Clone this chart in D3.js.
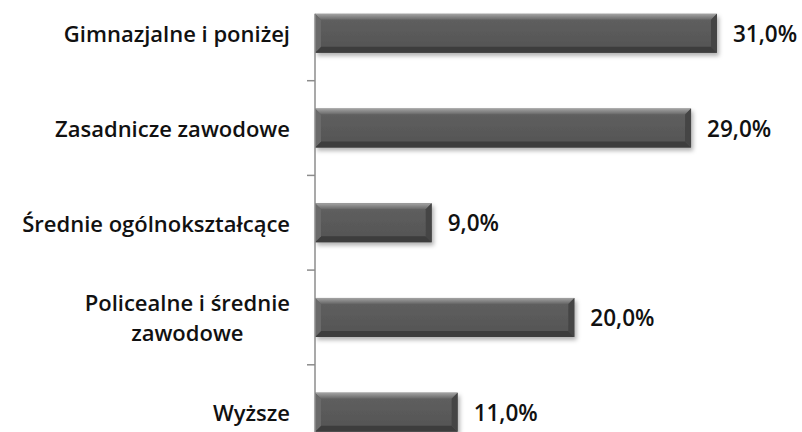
<!DOCTYPE html>
<html lang="pl">

<head>
    <meta charset="UTF-8">
    <title>Wykształcenie</title>
    <style>
        body {
            padding: 0;
            margin: 0;
            background: #fff;
        }
        text {
            font-family: "Open Sans", Lato, sans-serif;
            font-weight: 600;
            fill: #111;
        }
    </style>
</head>

<body>
    <script src="https://d3js.org/d3.v7.min.js"></script>
    <script>
        // dane wykresu
        const categories = ['Gimnazjalne i poniżej', 'Zasadnicze zawodowe', 'Średnie ogólnokształcące', 'Policealne i średnie zawodowe', 'Wyższe'];
        const labelLines = [['Gimnazjalne i poniżej'], ['Zasadnicze zawodowe'], ['Średnie ogólnokształcące'], ['Policealne i średnie', 'zawodowe'], ['Wyższe']];
        const values = [31, 29, 9, 20, 11];

        const width = 802;
        const height = 432;

        const svg = d3.select('body')
            .append('svg')
            .attr('width', width)
            .attr('height', height);

        const defs = svg.append('defs');
        const shadow = defs.append('filter')
            .attr('id', 'shadow')
            .attr('x', '-10%').attr('y', '-30%')
            .attr('width', '130%').attr('height', '180%');
        shadow.append('feDropShadow')
            .attr('dx', 2).attr('dy', 3)
            .attr('stdDeviation', 2)
            .attr('flood-color', '#000')
            .attr('flood-opacity', 0.3);

        const topGrad = defs.append('linearGradient').attr('id', 'topGrad')
            .attr('x1', 0).attr('y1', 0).attr('x2', 0).attr('y2', 1);
        topGrad.append('stop').attr('offset', 0).attr('stop-color', '#a4a4a4');
        topGrad.append('stop').attr('offset', 1).attr('stop-color', '#666');

        const bodyGrad = defs.append('linearGradient').attr('id', 'bodyGrad')
            .attr('x1', 0).attr('y1', 0).attr('x2', 0).attr('y2', 1);
        bodyGrad.append('stop').attr('offset', 0).attr('stop-color', '#606060');
        bodyGrad.append('stop').attr('offset', 1).attr('stop-color', '#545454');

        //skale
        const y = d3.scaleBand()
            .domain(categories)
            .range([-14, 459.5])
            .paddingInner(0.588)
            .paddingOuter(0.294);

        const x = d3.scaleLinear()
            .domain([0, 31])
            .range([315, 717]);

        const bevel = 6;
        const bars = svg.append('g')
            .selectAll('g')
            .data(categories)
            .join('g')
            .attr('filter', 'url(#shadow)');

        bars.append('rect')
            .attr('x', x(0))
            .attr('y', d => y(d))
            .attr('width', (d, i) => x(values[i]) - x(0))
            .attr('height', y.bandwidth())
            .attr('fill', 'url(#bodyGrad)');

        // górna krawędź
        bars.append('path')
            .attr('d', (d, i) => {
                const x0 = x(0), x1 = x(values[i]), t = y(d);
                return `M${x0},${t}L${x1},${t}L${x1 - bevel},${t + bevel}L${x0 + bevel},${t + bevel}Z`;
            })
            .attr('fill', 'url(#topGrad)');

        // dolna krawędź
        bars.append('path')
            .attr('d', (d, i) => {
                const x0 = x(0), x1 = x(values[i]), b = y(d) + y.bandwidth();
                return `M${x0},${b}L${x1},${b}L${x1 - bevel},${b - bevel}L${x0 + bevel},${b - bevel}Z`;
            })
            .attr('fill', '#3e3e3e');

        // prawa krawędź
        bars.append('path')
            .attr('d', (d, i) => {
                const x1 = x(values[i]), t = y(d), b = t + y.bandwidth();
                return `M${x1},${t}L${x1},${b}L${x1 - bevel},${b - bevel}L${x1 - bevel},${t + bevel}Z`;
            })
            .attr('fill', '#454545');

        // lewa krawędź
        bars.append('path')
            .attr('d', d => {
                const x0 = x(0), t = y(d), b = t + y.bandwidth();
                return `M${x0},${t}L${x0},${b}L${x0 + bevel},${b - bevel}L${x0 + bevel},${t + bevel}Z`;
            })
            .attr('fill', '#6a6a6a');

        // oś pionowa
        const bounds = categories.slice(1).map(d => y(d) - y.step() * y.paddingInner() / 2);
        svg.append('line')
            .attr('x1', x(0)).attr('x2', x(0))
            .attr('y1', y(categories[0])).attr('y2', height)
            .attr('stroke', '#8c8c8c')
            .attr('stroke-width', 1.5);
        svg.append('g')
            .selectAll('line')
            .data(bounds)
            .join('line')
            .attr('x1', x(0) - 8).attr('x2', x(0))
            .attr('y1', d => d).attr('y2', d => d)
            .attr('stroke', '#8c8c8c')
            .attr('stroke-width', 1.5);

        // etykiety kategorii
        const labelRight = 290;
        const lineH = 30;
        const labels = svg.append('g')
            .selectAll('text')
            .data(categories)
            .join('text')
            .attr('font-size', 22)
            .attr('text-anchor', 'middle')
            .attr('dominant-baseline', 'central');
        labels.each(function (d, i) {
            const el = d3.select(this);
            const lines = labelLines[i];
            const cy = y(d) + y.bandwidth() / 2 - (lines.length - 1) * lineH / 2;
            lines.forEach((l, j) => {
                el.append('tspan').attr('y', cy + j * lineH).text(l);
            });
            const w = d3.max(el.selectAll('tspan').nodes(), n => n.getComputedTextLength());
            el.selectAll('tspan').attr('x', labelRight - w / 2);
        });

        // etykiety wartości
        const fmt = v => d3.format('.1f')(v).replace('.', ',') + '%';
        svg.append('g')
            .selectAll('text')
            .data(categories)
            .join('text')
            .attr('x', (d, i) => x(values[i]) + 16)
            .attr('y', d => y(d) + y.bandwidth() / 2)
            .attr('dominant-baseline', 'central')
            .attr('font-size', 22.5)
            .text((d, i) => fmt(values[i]));
    </script>

</body>

</html>
